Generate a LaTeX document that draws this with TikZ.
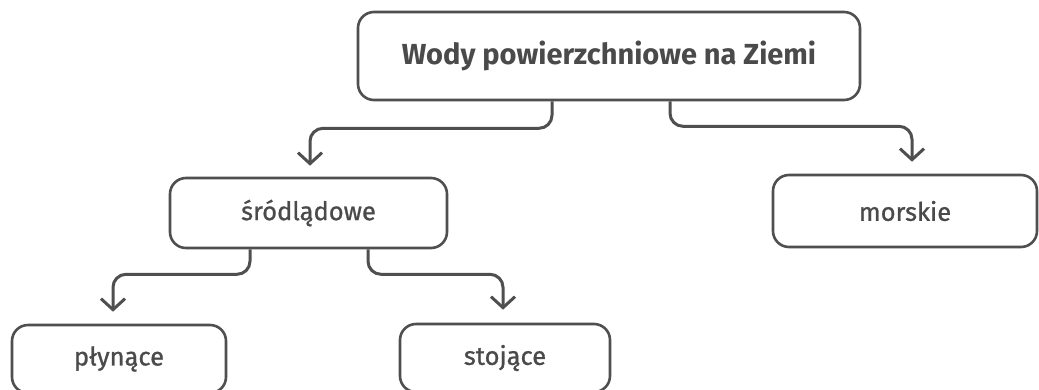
\documentclass[tikz,border=0pt]{standalone}
\usepackage{fontspec}
\setmainfont{Fira Sans}
\newfontfamily\medfont[FakeBold=0.9]{Fira Sans}
\usetikzlibrary{arrows.meta}
\definecolor{ink}{HTML}{4F4F4F}
\definecolor{txt}{HTML}{4A4A4A}
\tikzset{
  box/.style={draw=ink, line width=2.6pt, rounded corners=16pt, fill=white, text=txt, inner sep=0pt, align=center},
  conn/.style={draw=ink, line width=3pt, rounded corners=13pt, -{Straight Barb[length=11pt,width=24pt,line width=3pt]}},
  lab/.style={font=\medfont\fontsize{25.5}{29}\selectfont},
}
\begin{document}
\begin{tikzpicture}[x=1pt,y=-1pt]
\useasboundingbox (0,0) rectangle (1039,389);
\clip (0,0) rectangle (1039,389);
\fill[white] (0,0) rectangle (1039,389);
\node[box, minimum width=502pt, minimum height=88pt, font=\fontsize{29}{33}\selectfont\bfseries] (top) at (609,56) {Wody powierzchniowe na Ziemi};
\node[box, lab, minimum width=277pt, minimum height=70pt] (sr) at (308.5,213) {śródlądowe};
\node[box, lab, minimum width=264pt, minimum height=72pt] (ms) at (905,211) {morskie};
\node[box, lab, minimum width=214pt, minimum height=68pt] (pl) at (119,359) {płynące};
\node[box, lab, minimum width=210pt, minimum height=68pt] (st) at (505,358) {stojące};
\draw[conn, shorten >=11pt] ([xshift=-57pt]top.south) -- ++(0,27) -| ([xshift=1.5pt]sr.north);
\draw[conn, shorten >=12pt] ([xshift=61pt]top.south) -- ++(0,25) -| ([xshift=7pt]ms.north);
\draw[conn, shorten >=12pt] ([xshift=-58.5pt]sr.south) -- ++(0,25) -| ([xshift=-6pt]pl.north);
\draw[conn, shorten >=13pt] ([xshift=59.5pt]sr.south) -- ++(0,25) -| ([xshift=-2pt]st.north);
\end{tikzpicture}
\end{document}
